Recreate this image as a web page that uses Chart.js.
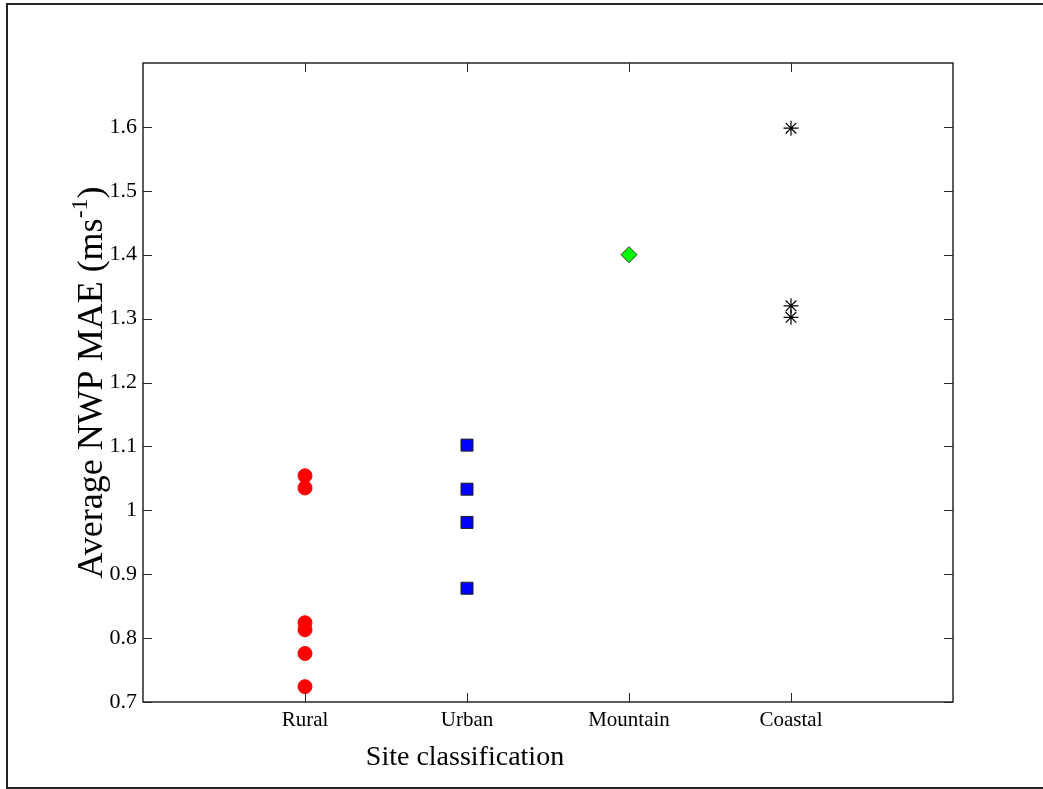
<!DOCTYPE html>
<html>
<head>
<meta charset="utf-8">
<script src="https://cdn.jsdelivr.net/npm/chart.js@4.4.1/dist/chart.umd.min.js"></script>
<style>
  html, body { margin: 0; padding: 0; background: #ffffff; }
  #wrap { width: 1043px; height: 789px; }
</style>
</head>
<body>
<div id="wrap"><canvas id="c" width="1043" height="789"></canvas></div>
<script>
// ---- Data ----
const categories = ['Rural', 'Urban', 'Mountain', 'Coastal'];
const ruralMAE = [1.054, 1.035, 0.824, 0.813, 0.776, 0.724];
const urbanMAE = [1.102, 1.033, 0.981, 0.878];
const mountainMAE = [1.400];
const coastalMAE = [1.598, 1.320, 1.302];
const yTicks = [0.7, 0.8, 0.9, 1.0, 1.1, 1.2, 1.3, 1.4, 1.5, 1.6];
const xTicks = [1, 2, 3, 4];
const xTitle = 'Site classification';
const yTitleMain = 'Average NWP MAE (ms';
const yTitleSup = '-1';
const yTitleEnd = ')';

const serif = '"Liberation Serif", "Times New Roman", "DejaVu Serif", serif';

function toPoints(catIndex, values) {
  return values.map(v => ({ x: catIndex + 1, y: v }));
}

const decorPlugin = {
  id: 'decor',
  afterDraw(chart) {
    const ctx = chart.ctx;
    const a = chart.chartArea;
    const xs = chart.scales.x, ys = chart.scales.y;
    ctx.save();
    // outer figure border
    ctx.strokeStyle = '#222';
    ctx.lineWidth = 2;
    ctx.strokeRect(7, 4, 1043, 784);
    // axes box
    ctx.strokeStyle = '#262626';
    ctx.lineWidth = 1.5;
    ctx.strokeRect(a.left, a.top, a.right - a.left, a.bottom - a.top);
    // inward ticks (both sides, MATLAB style)
    const tl = 9;
    ctx.lineWidth = 1;
    ctx.beginPath();
    yTicks.forEach(v => {
      const y = Math.round(ys.getPixelForValue(v)) + 0.5;
      ctx.moveTo(a.left, y); ctx.lineTo(a.left + tl, y);
      ctx.moveTo(a.right, y); ctx.lineTo(a.right - tl, y);
    });
    xTicks.forEach(v => {
      const x = Math.round(xs.getPixelForValue(v)) + 0.5;
      ctx.moveTo(x, a.bottom); ctx.lineTo(x, a.bottom - tl);
      ctx.moveTo(x, a.top); ctx.lineTo(x, a.top + tl);
    });
    ctx.stroke();

    // x-axis title
    ctx.fillStyle = '#000';
    ctx.font = '28px ' + serif;
    ctx.textAlign = 'center';
    ctx.textBaseline = 'alphabetic';
    ctx.fillText(xTitle, 465, 765);

    // y-axis title with superscript
    const mainFont = '36px ' + serif;
    const supFont = '24px ' + serif;
    ctx.font = mainFont;
    const w1 = ctx.measureText(yTitleMain).width;
    const w3 = ctx.measureText(yTitleEnd).width;
    ctx.font = supFont;
    const w2 = ctx.measureText(yTitleSup).width;
    const total = w1 + w2 + w3;
    ctx.translate(102, (a.top + a.bottom) / 2);
    ctx.rotate(-Math.PI / 2);
    ctx.textAlign = 'left';
    let x0 = -total / 2;
    ctx.font = mainFont;
    ctx.fillText(yTitleMain, x0, 0);
    ctx.font = supFont;
    ctx.fillText(yTitleSup, x0 + w1, -15);
    ctx.font = mainFont;
    ctx.fillText(yTitleEnd, x0 + w1 + w2, 0);
    ctx.restore();
  }
};

new Chart(document.getElementById('c'), {
  type: 'scatter',
  data: {
    datasets: [
      {
        label: categories[0],
        data: toPoints(0, ruralMAE),
        pointStyle: 'circle',
        pointRadius: 7,
        backgroundColor: '#ff0000',
        borderColor: '#ff0000',
        borderWidth: 1
      },
      {
        label: categories[1],
        data: toPoints(1, urbanMAE),
        pointStyle: 'rect',
        pointRadius: 8.5,
        backgroundColor: '#0000ff',
        borderColor: '#222222',
        borderWidth: 1
      },
      {
        label: categories[2],
        data: toPoints(2, mountainMAE),
        pointStyle: 'rectRot',
        pointRadius: 8,
        backgroundColor: '#00ff00',
        borderColor: '#333333',
        borderWidth: 1
      },
      {
        label: categories[3],
        data: toPoints(3, coastalMAE),
        pointStyle: 'star',
        pointRadius: 7.5,
        backgroundColor: '#000000',
        borderColor: '#000000',
        borderWidth: 1.2
      }
    ]
  },
  options: {
    responsive: false,
    animation: false,
    events: [],
    layout: { padding: { left: 0, top: 63, right: 90, bottom: 0 } },
    plugins: { legend: { display: false }, tooltip: { enabled: false }, title: { display: false } },
    scales: {
      x: {
        type: 'linear',
        min: 0,
        max: 5,
        grid: { display: false, drawTicks: false },
        border: { display: false },
        afterBuildTicks: s => { s.ticks = xTicks.map(v => ({ value: v })); },
        afterFit: s => { s.height = 87; },
        ticks: {
          padding: 6,
          color: '#000',
          font: { family: serif, size: 21 },
          maxRotation: 0,
          callback: v => categories[v - 1]
        }
      },
      y: {
        type: 'linear',
        min: 0.7,
        max: 1.7,
        grid: { display: false, drawTicks: false },
        border: { display: false },
        afterBuildTicks: s => { s.ticks = yTicks.map(v => ({ value: v })); },
        afterFit: s => { s.width = 143; },
        ticks: {
          padding: 6,
          color: '#000',
          font: { family: serif, size: 22 },
          callback: v => String(Number(v.toFixed(1)))
        }
      }
    }
  },
  plugins: [decorPlugin]
});
</script>
</body>
</html>
